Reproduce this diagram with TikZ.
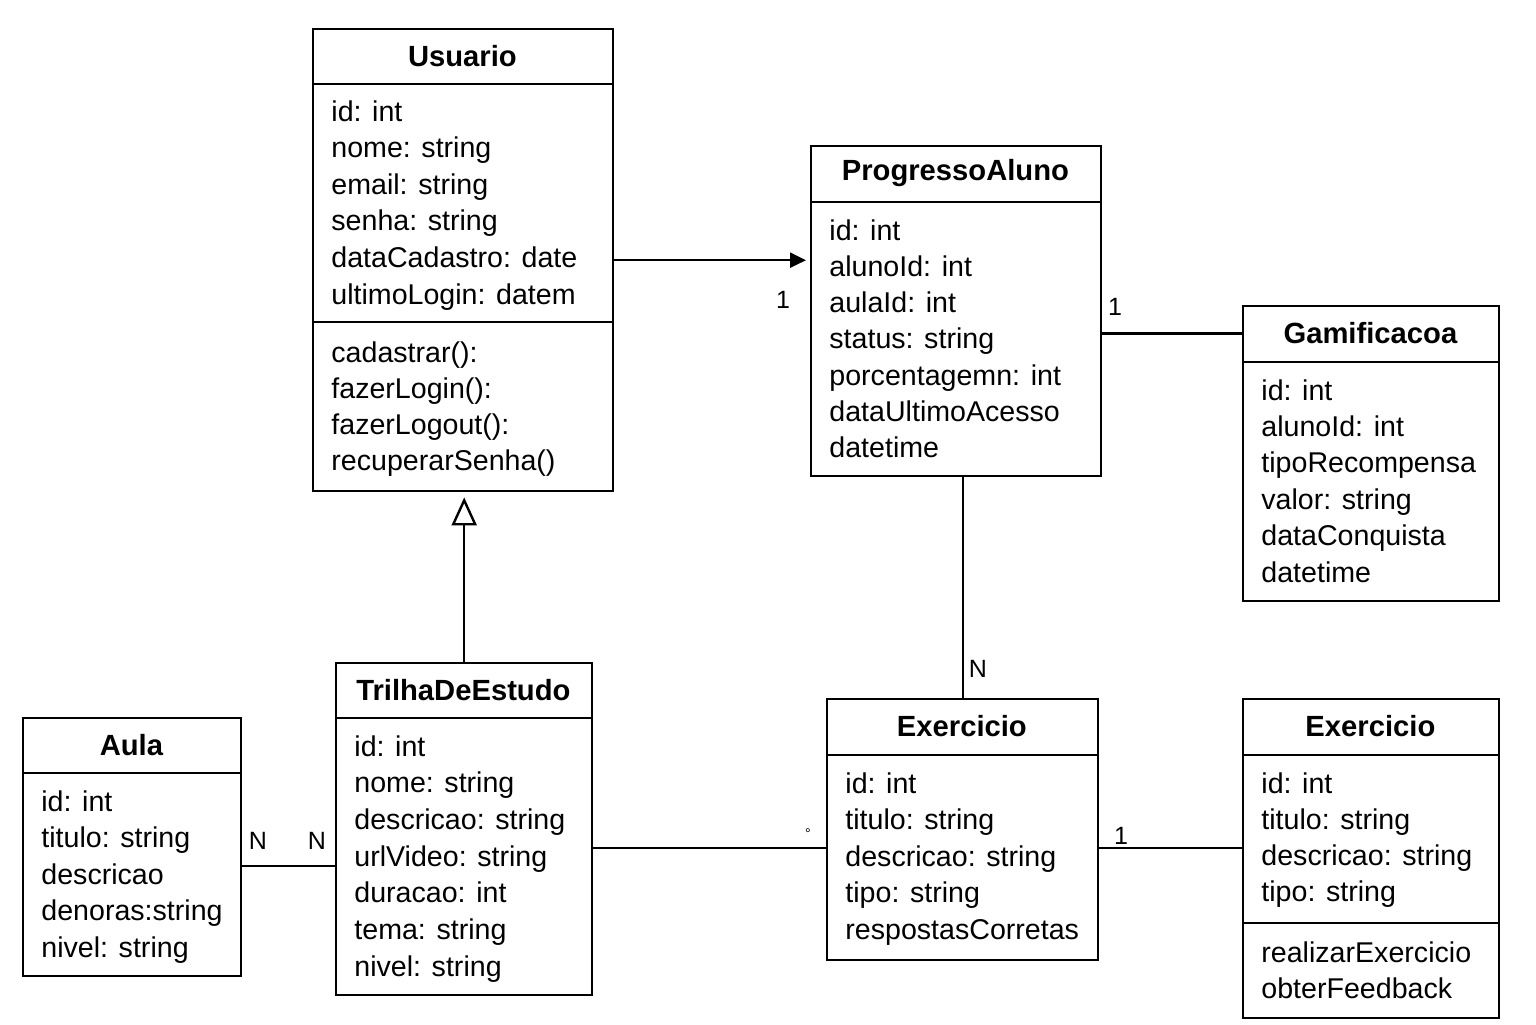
\documentclass[tikz,border=0pt]{standalone}
\usepackage{fontspec}
\setmainfont{Liberation Sans}
\usetikzlibrary{arrows.meta}

\begin{document}
\begin{tikzpicture}[x=0.5pt,y=-0.5pt]
    \tikzstyle{classbox}=[draw, line width=1.2pt, inner sep=0pt, anchor=north west]
    \tikzstyle{title}=[inner sep=0pt, anchor=north west, font=\fontsize{14.6pt}{17pt}\selectfont\bfseries]
    \tikzstyle{attr}=[inner sep=0pt, anchor=base west, font=\fontsize{14.3pt}{17pt}\selectfont]
    \tikzstyle{mult}=[inner sep=0pt, font=\fontsize{12.5pt}{15pt}\selectfont]
    \tikzstyle{divider}=[line width=1.2pt]
    \tikzstyle{assoc}=[line width=1.2pt]
    \fill[white] (0,0) rectangle (1536,1024);
    \useasboundingbox (0,0) rectangle (1536,1024);

    % Usuario
    \node[classbox, minimum width=150pt, minimum height=231pt] (usuario) at (312,28) {};
    \node[title, minimum width=150pt, minimum height=27.5pt] (usuario-title) at (312,28) {Usuario};
    \draw[divider] (usuario-title.south west) -- (usuario-title.south east);
    \draw[divider] (312,322) coordinate (usuario-m) -- (612,322);
    \foreach \t [count=\i] in {id: int, nome: string, email: string, senha: string, dataCadastro: date, ultimoLogin: datem}
      \node[attr] (usuario-a\i) at (331,{121+36.6*(\i-1)}) {\t};
    \foreach \t [count=\i] in {cadastrar():, fazerLogin():, fazerLogout():, recuperarSenha()}
      \node[attr] (usuario-m\i) at (331,{362+36.3*(\i-1)}) {\t};

    % ProgressoAluno
    \node[classbox, minimum width=145pt, minimum height=165pt] (progresso) at (810,145) {};
    \node[title, minimum width=145pt, minimum height=28pt] (progresso-title) at (810,145) {ProgressoAluno};
    \draw[divider] (progresso-title.south west) -- (progresso-title.south east);
    \foreach \t [count=\i] in {id: int, alunoId: int, aulaId: int, status: string, porcentagemn: int, dataUltimoAcesso, datetime}
      \node[attr] (progresso-a\i) at (829,{240+36.3*(\i-1)}) {\t};

    % Gamificacoa
    \node[classbox, minimum width=128pt, minimum height=147.5pt] (gamif) at (1242,305) {};
    \node[title, minimum width=128pt, minimum height=28pt] (gamif-title) at (1242,305) {Gamificacoa};
    \draw[divider] (gamif-title.south west) -- (gamif-title.south east);
    \foreach \t [count=\i] in {id: int, alunoId: int, tipoRecompensa, valor: string, dataConquista, datetime}
      \node[attr] (gamif-a\i) at (1261,{400+36.4*(\i-1)}) {\t};

    % Aula
    \node[classbox, minimum width=109pt, minimum height=129pt] (aula) at (22,717) {};
    \node[title, minimum width=109pt, minimum height=27.5pt] (aula-title) at (22,717) {Aula};
    \draw[divider] (aula-title.south west) -- (aula-title.south east);
    \foreach \t [count=\i] in {id: int, titulo: string, descricao, denoras:string, nivel: string}
      \node[attr] (aula-a\i) at (41,{811+36.5*(\i-1)}) {\t};

    % TrilhaDeEstudo
    \node[classbox, minimum width=128pt, minimum height=166pt] (trilha) at (335,662) {};
    \node[title, minimum width=128pt, minimum height=27.5pt] (trilha-title) at (335,662) {TrilhaDeEstudo};
    \draw[divider] (trilha-title.south west) -- (trilha-title.south east);
    \foreach \t [count=\i] in {id: int, nome: string, descricao: string, urlVideo: string, duracao: int, tema: string, nivel: string}
      \node[attr] (trilha-a\i) at (354,{756+36.7*(\i-1)}) {\t};

    % Exercicio
    \node[classbox, minimum width=135.5pt, minimum height=130.5pt] (exercicio) at (826,698) {};
    \node[title, minimum width=135.5pt, minimum height=28pt] (exercicio-title) at (826,698) {Exercicio};
    \draw[divider] (exercicio-title.south west) -- (exercicio-title.south east);
    \foreach \t [count=\i] in {id: int, titulo: string, descricao: string, tipo: string, respostasCorretas}
      \node[attr] (exercicio-a\i) at (845,{793+36.5*(\i-1)}) {\t};

    % Exercicio (second)
    \node[classbox, minimum width=128pt, minimum height=159.5pt] (exercicio2) at (1242,698) {};
    \node[title, minimum width=128pt, minimum height=28pt] (exercicio2-title) at (1242,698) {Exercicio};
    \draw[divider] (exercicio2-title.south west) -- (exercicio2-title.south east);
    \draw[divider] (1242,923) -- (1498,923);
    \foreach \t [count=\i] in {id: int, titulo: string, descricao: string, tipo: string}
      \node[attr] (exercicio2-a\i) at (1261,{793+36.3*(\i-1)}) {\t};
    \foreach \t [count=\i] in {realizarExercicio, obterFeedback}
      \node[attr] (exercicio2-m\i) at (1261,{962+36.3*(\i-1)}) {\t};

    % connectors
    \draw[assoc, -{Triangle[length=8pt, width=7.5pt]}, shorten >=2pt] (usuario.east) -- (usuario.east -| progresso.west);
    \node[mult] (m-up) at (783,300) {1};
    \draw[assoc] (gamif-title.west) -- (gamif-title.west -| progresso.east);
    \node[mult] (m-pg) at (1115,307) {1};
    \draw[assoc] (exercicio.north) -- (exercicio.north |- progresso.south);
    \node[mult] (m-pe) at (978,669) {N};
    \draw[assoc, -{Triangle[open, fill=white, length=14pt, width=12.5pt]}, shorten >=2.5pt] (trilha.north) -- (trilha.north |- usuario.south);
    \draw[assoc] (aula.east |- 0,866) -- (trilha.west |- 0,866);
    \node[mult] (m-at1) at (258,841) {N};
    \node[mult] (m-at2) at (317,841) {N};
    \draw[assoc] (trilha.east |- 0,848) -- (exercicio.west |- 0,848);
    \node[mult, font=\fontsize{7pt}{8pt}\selectfont] (m-te) at (808,834) {°};
    \draw[assoc] (exercicio.east |- 0,848) -- (exercicio2.west |- 0,848);
    \node[mult] (m-ee) at (1121,836) {1};
\end{tikzpicture}
\end{document}
